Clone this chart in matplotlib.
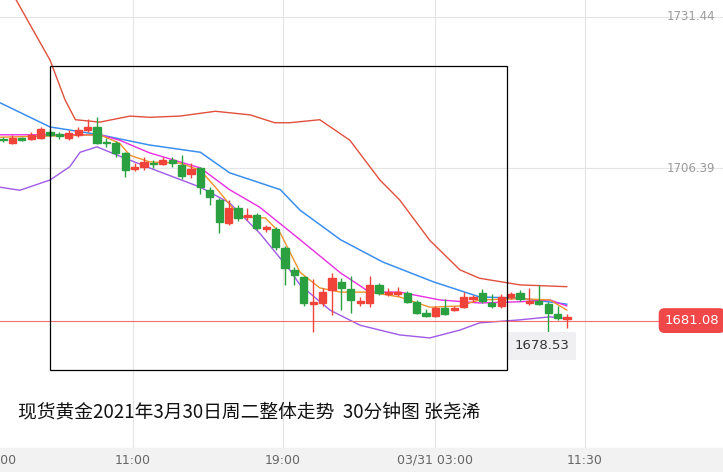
import matplotlib.pyplot as plt
from matplotlib.patches import Rectangle

plt.rcParams["font.family"] = ["Noto Sans CJK SC", "DejaVu Sans"]

# OHLC per 30-minute bar
opens = [1711.2, 1710.6, 1711.3, 1711.2, 1711.4, 1712.4, 1711.9, 1711.4, 1711.9, 1712.7,
         1713.2, 1710.6, 1710.6, 1708.9, 1706.3, 1706.6, 1707.3, 1707.1, 1707.8, 1706.9,
         1705.4, 1706.4, 1702.8, 1701.1, 1697.3, 1699.8, 1698.3, 1698.6, 1696.3, 1696.3,
         1693.2, 1689.5, 1688.3, 1683.9, 1684.0, 1686.2, 1687.5, 1686.4, 1684.0, 1684.0,
         1687.0, 1685.5, 1685.5, 1685.7, 1684.2, 1682.4, 1681.9, 1683.2, 1682.9, 1683.4,
         1684.7, 1685.7, 1684.0, 1683.5, 1685.0, 1685.7, 1684.0, 1684.4, 1683.9, 1682.2,
         1681.4]
closes = [1711.0, 1711.4, 1711.1, 1711.9, 1712.9, 1711.9, 1711.7, 1712.2, 1712.7, 1713.2,
          1710.6, 1710.5, 1708.9, 1706.1, 1706.6, 1707.4, 1707.0, 1707.8, 1707.3, 1705.1,
          1706.3, 1703.3, 1701.5, 1697.5, 1699.8, 1698.1, 1698.6, 1696.5, 1696.5, 1693.3,
          1689.8, 1688.7, 1684.0, 1684.2, 1685.9, 1688.2, 1686.5, 1684.5, 1684.2, 1687.0,
          1685.7, 1685.7, 1685.9, 1684.2, 1682.4, 1681.9, 1683.2, 1682.2, 1683.2, 1685.0,
          1684.9, 1684.4, 1683.5, 1685.0, 1685.5, 1684.7, 1684.2, 1683.9, 1682.4, 1681.5,
          1681.6]
highs = [1711.6, 1711.9, 1711.6, 1712.4, 1713.2, 1712.9, 1712.4, 1712.7, 1713.2, 1714.6,
         1714.9, 1711.3, 1710.9, 1709.0, 1707.3, 1708.2, 1707.8, 1708.2, 1708.2, 1708.6,
         1707.3, 1706.6, 1703.3, 1701.4, 1701.1, 1700.3, 1699.8, 1699.0, 1697.0, 1696.6,
         1693.5, 1690.0, 1688.5, 1688.0, 1686.5, 1689.0, 1688.2, 1688.5, 1685.0, 1688.5,
         1687.3, 1686.5, 1686.7, 1686.0, 1684.5, 1683.0, 1683.5, 1684.7, 1683.5, 1685.9,
         1685.4, 1686.4, 1685.5, 1685.5, 1685.9, 1686.2, 1686.5, 1687.0, 1684.2, 1683.5,
         1682.2]
lows = [1710.7, 1710.4, 1710.9, 1711.0, 1711.2, 1711.6, 1711.2, 1711.1, 1711.6, 1712.4,
        1710.4, 1709.9, 1708.2, 1704.9, 1705.9, 1706.1, 1706.4, 1706.9, 1706.6, 1704.6,
        1704.8, 1702.0, 1700.3, 1695.6, 1697.0, 1697.6, 1697.8, 1696.1, 1695.8, 1692.8,
        1687.0, 1687.0, 1683.5, 1679.2, 1683.5, 1682.0, 1682.8, 1682.4, 1683.5, 1683.4,
        1685.4, 1685.2, 1685.2, 1684.0, 1682.2, 1681.7, 1681.7, 1682.0, 1682.7, 1683.2,
        1684.2, 1684.0, 1683.2, 1683.2, 1684.7, 1684.4, 1683.7, 1683.7, 1679.2, 1681.2,
        1679.9]

# indicator lines: (bar index, price)
ma_blue_x = [-0.3, 5.0, 10.3, 15.6, 21.0, 24.1, 29.5, 31.6, 35.9, 40.4, 45.8, 50.7, 55.0, 60.0]
ma_blue_y = [1717.2, 1713.2, 1711.9, 1710.2, 1709.0, 1705.6, 1702.8, 1699.4, 1694.5, 1690.8,
             1687.5, 1685.0, 1684.8, 1683.8]
ma_mag_x = [-0.3, 10.3, 12.4, 15.6, 21.0, 24.1, 27.3, 31.6, 35.9, 39.0, 42.2, 46.5, 50.7, 55.0,
            58.2, 60.0]
ma_mag_y = [1711.9, 1711.9, 1711.0, 1708.9, 1706.4, 1702.8, 1699.9, 1694.5, 1689.0, 1685.8,
            1685.8, 1684.5, 1684.0, 1684.2, 1684.5, 1683.5]
ma_org_x = [-0.3, 10.3, 12.4, 13.5, 15.6, 18.8, 21.0, 22.6, 25.2, 27.9, 29.5, 31.6, 33.7, 35.9,
            39.0, 42.2, 45.4, 48.6, 50.7, 55.0, 58.2, 60.0]
ma_org_y = [1711.5, 1711.9, 1710.5, 1708.5, 1707.4, 1707.2, 1706.0, 1703.2, 1698.3, 1698.1,
            1695.6, 1689.1, 1686.5, 1685.8, 1685.8, 1685.0, 1683.3, 1683.5, 1684.5, 1684.7,
            1684.5, 1682.8]
bb_up_x = [0.2, 2.9, 5.0, 6.6, 7.7, 10.3, 13.5, 15.6, 18.8, 22.6, 26.3, 28.9, 30.5, 33.7, 36.9,
           40.1, 42.2, 45.4, 48.6, 50.7, 55.0, 60.0]
bb_up_y = [1737.6, 1730.1, 1724.3, 1717.7, 1714.4, 1714.0, 1715.0, 1714.8, 1715.0, 1715.8,
           1715.2, 1713.9, 1713.9, 1714.4, 1711.0, 1704.4, 1701.1, 1694.4, 1689.5, 1688.1,
           1687.0, 1686.7]
bb_lo_x = [-0.3, 1.8, 5.0, 7.1, 8.2, 10.0, 11.4, 15.6, 21.0, 24.1, 27.3, 30.5, 31.6, 34.8, 38.0,
           42.2, 45.4, 48.6, 50.7, 55.0, 58.2, 60.0]
bb_lo_y = [1703.2, 1702.7, 1704.4, 1706.6, 1709.0, 1709.9, 1709.0, 1706.4, 1703.2, 1700.6,
           1695.6, 1689.5, 1687.0, 1682.8, 1680.3, 1678.7, 1678.2, 1679.5, 1680.7, 1681.2,
           1681.7, 1681.4]

grid_prices = [1731.44, 1706.39]
last_price = 1681.08
low_label = "1678.53"
time_pos = [-0.1, 13.8, 29.8, 46.0, 61.9]
time_labels = ["2:00", "11:00", "19:00", "03/31 03:00", "11:30"]
title = "现货黄金2021年3月30日周二整体走势  30分钟图 张尧浠"

UP, DOWN = "#f0443a", "#2aa040"

fig = plt.figure(figsize=(7.23, 4.72), dpi=100)
ax = fig.add_axes([0, 0, 1, 1])
ax.set_xlim(-0.32, 76.6)
ax.set_ylim(1655.96, 1734.26)
ax.axis("off")

# bottom time strip
fig.patches.append(Rectangle((0, 0), 1, 24 / 472, transform=fig.transFigure,
                             color="#f2f2f2", zorder=0))

for p in grid_prices:
    ax.axhline(p, color="#e4e4e4", lw=0.8, zorder=1)
    ax.text(70.6, p, f"{p:.2f}", color="#9a9a9a", fontsize=8.5, va="center",
            family="DejaVu Sans")
for t in time_pos[1:]:
    ax.axvline(t, color="#e4e4e4", lw=0.8, zorder=1)
for t, lab in zip(time_pos, time_labels):
    fig.text((ax.transData.transform((t, 1700))[0]) / 723, 12 / 472, lab,
             ha="center", va="center", fontsize=9, color="#666666", family="DejaVu Sans")

lk = dict(zorder=2, solid_joinstyle="round", solid_capstyle="round")
ax.plot(bb_up_x, bb_up_y, color="#e0503c", lw=1, **lk)
ax.plot(bb_lo_x, bb_lo_y, color="#a05ae6", lw=1, **lk)
ax.plot(ma_blue_x, ma_blue_y, color="#3a8ff0", lw=1.1, **lk)
ax.plot(ma_mag_x, ma_mag_y, color="#e82ee0", lw=1, **lk)
ax.plot(ma_org_x, ma_org_y, color="#f0922a", lw=1, **lk)

for i, (o, c, h, l) in enumerate(zip(opens, closes, highs, lows)):
    col = UP if c >= o else DOWN
    ax.vlines(i, l, h, color=col, lw=1, zorder=3)
    body = max(abs(c - o), 0.25)
    ax.add_patch(Rectangle((i - 0.38, min(o, c)), 0.76, body, color=col, zorder=4))

ax.axhline(last_price, color="#f07070", lw=0.8, zorder=2)
ax.text(76.2, last_price, f"{last_price:.2f}", color="white", fontsize=9.5, ha="right",
        va="center", family="DejaVu Sans",
        bbox=dict(boxstyle="round,pad=0.45", fc="#f04848", ec="none"), zorder=6)
ax.text(54.4, 1676.9, low_label, color="#333333", fontsize=9.5, ha="left", va="center",
        family="DejaVu Sans",
        bbox=dict(boxstyle="square,pad=0.55", fc="#f0f0f2", ec="none"), zorder=6)

fig.patches.append(Rectangle((50 / 723, 1 - 370 / 472), 457 / 723, 304 / 472,
                             transform=fig.transFigure, fill=False, ec="black", lw=0.9, zorder=5))
fig.text(18 / 723, 1 - 412 / 472, title, fontsize=13.5, va="center", color="#111111")

fig.savefig("out.png", dpi=100)
